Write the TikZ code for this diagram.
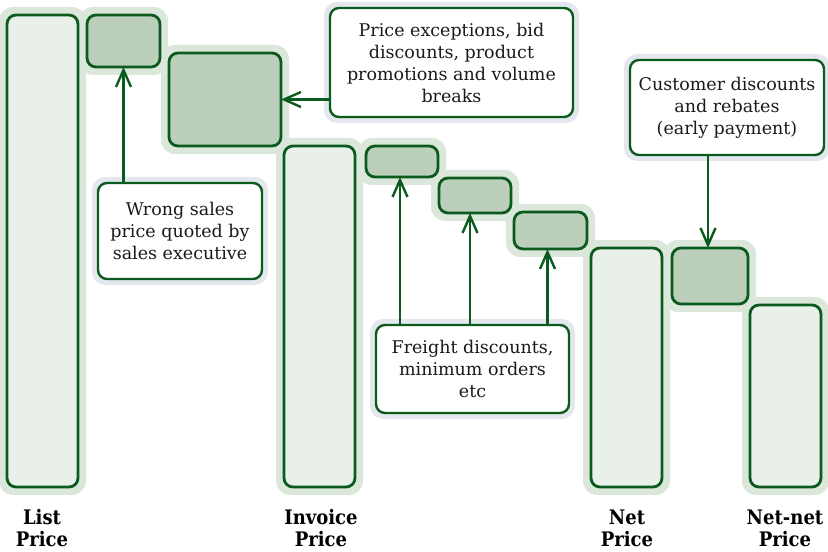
\documentclass[tikz,border=0pt]{standalone}
\usepackage{fontspec}
\setmainfont{DejaVu Serif}
\newfontfamily\labelfont{DejaVu Serif Condensed}
\usetikzlibrary{arrows.meta,backgrounds}

\definecolor{edgeG}{HTML}{0B5A1E}
\definecolor{barG}{HTML}{E9F0E9}
\definecolor{cutG}{HTML}{BBCFBB}
\definecolor{haloG}{HTML}{DCE7DC}
\definecolor{haloB}{HTML}{E4E8EE}
\definecolor{inkT}{HTML}{1A1A1A}

\tikzset{
  bar/.style={draw=edgeG, fill=barG, line width=2.8pt, rounded corners=9pt,
    inner sep=0pt, outer sep=0pt},
  cut/.style={draw=edgeG, fill=cutG, line width=2.8pt, rounded corners=9pt,
    inner sep=0pt, outer sep=0pt},
  note/.style={draw=edgeG, fill=white, line width=2.4pt, rounded corners=9pt,
    inner sep=0pt, outer sep=0pt, align=center, text=inkT,
    font=\fontsize{17.5}{22}\selectfont},
  axislabel/.style={align=center, text=black, inner sep=0pt,
    font=\labelfont\bfseries\fontsize{20}{22}\selectfont},
  pointer/.style={draw=edgeG, line width=2.4pt,
    -{Straight Barb[length=17pt,width=15pt,line width=2.4pt]}},
}

\begin{document}
\begin{tikzpicture}[x=1pt,y=1pt]
\useasboundingbox (0,0) rectangle (828,552);

% price bars
\node[bar, minimum width=71pt, minimum height=472pt] (lp) at (42.5,301) {};
\node[bar, minimum width=71pt, minimum height=341pt] (ip) at (319.5,235.5) {};
\node[bar, minimum width=71pt, minimum height=239pt] (np) at (626.5,184.5) {};
\node[bar, minimum width=71pt, minimum height=182pt] (nn) at (785.5,156) {};

% reductions between the bars
\node[cut, minimum width=73pt, minimum height=52pt] (b1) at (123.5,511) {};
\node[cut, minimum width=112pt, minimum height=93pt] (b2) at (225,452.5) {};
\node[cut, minimum width=72pt, minimum height=31pt] (b3) at (402,390.5) {};
\node[cut, minimum width=72pt, minimum height=35pt] (b4) at (475,356.5) {};
\node[cut, minimum width=73pt, minimum height=37pt] (b5) at (550.5,321.5) {};
\node[cut, minimum width=76pt, minimum height=56pt] (b6) at (710,276) {};

% explanatory notes
\node[note, minimum width=164pt, minimum height=96pt] (c1) at (180,321)
  {Wrong sales\\price quoted by\\sales executive};
\node[note, minimum width=243pt, minimum height=109pt] (c2) at (451.5,489.5)
  {Price exceptions, bid\\discounts, product\\promotions and volume\\breaks};
\node[note, minimum width=193pt, minimum height=88pt] (c3) at (472.5,183)
  {Freight discounts,\\minimum orders\\etc};
\node[note, minimum width=194pt, minimum height=95pt] (c4) at (727,444.5)
  {Customer discounts\\and rebates\\(early payment)};

% soft halos behind every box
\begin{scope}[on background layer]
  \foreach \n in {lp,ip,np,nn,b1,b2,b3,b4,b5,b6}
    \fill[haloG, rounded corners=14pt]
      ([shift={(-8pt,-8pt)}]\n.south west) rectangle ([shift={(8pt,8pt)}]\n.north east);
  \foreach \n in {c1,c2,c3,c4}
    \fill[haloB, rounded corners=13pt]
      ([shift={(-6pt,-6pt)}]\n.south west) rectangle ([shift={(6pt,6pt)}]\n.north east);
\end{scope}

% connectors
\draw[pointer] (c1.north -| b1.south) -- (b1.south);
\draw[pointer] (b2.east -| c2.west) -- (b2.east);
\draw[pointer] ([xshift=-2pt]c3.north -| b3.south) -- ([xshift=-2pt]b3.south);
\draw[pointer] ([xshift=-5pt]c3.north -| b4.south) -- ([xshift=-5pt]b4.south);
\draw[pointer] ([xshift=-3pt]c3.north -| b5.south) -- ([xshift=-3pt]b5.south);
\draw[pointer] ([xshift=-2pt]c4.south -| b6.north) -- ([xshift=-2pt]b6.north);

% axis labels
\node[axislabel] (llp) at (42,24) {List\\Price};
\node[axislabel] (lip) at (321,24) {Invoice\\Price};
\node[axislabel] (lnp) at (627,24) {Net\\Price};
\node[axislabel] (lnn) at (785,24) {Net-net\\Price};
\end{tikzpicture}
\end{document}
